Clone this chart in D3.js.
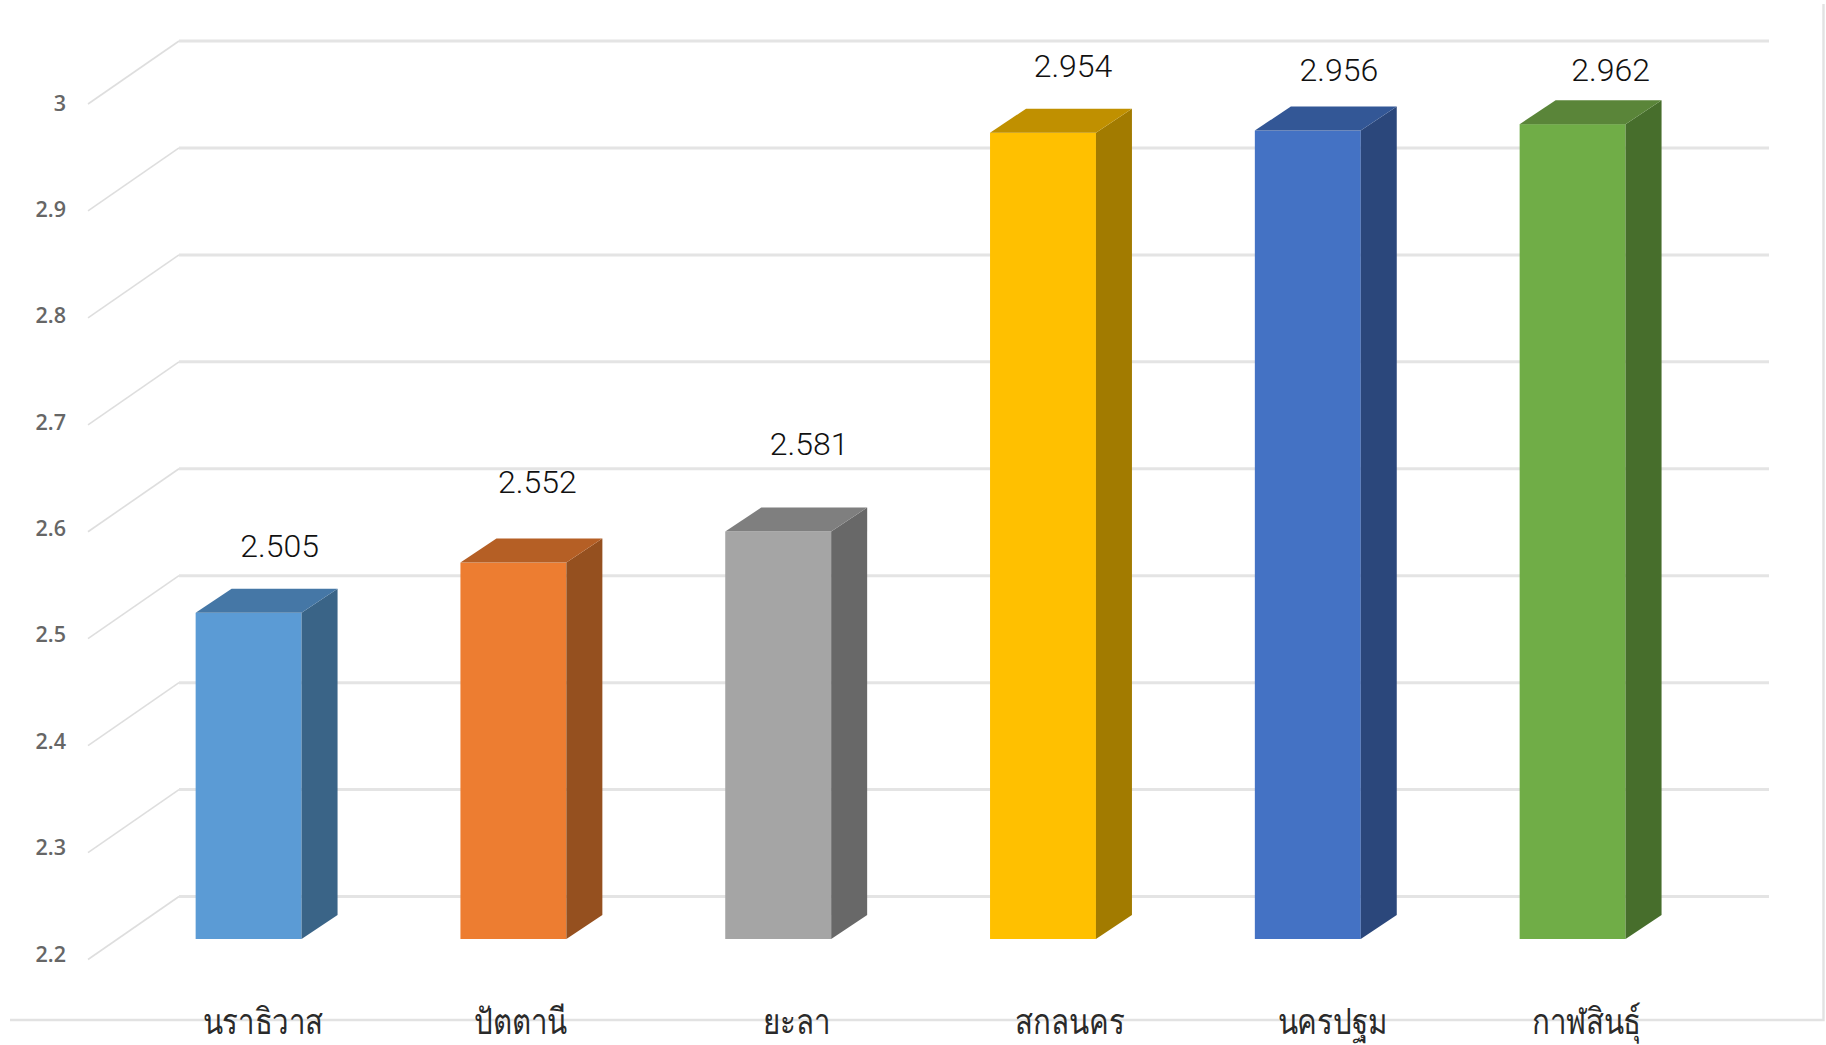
<!DOCTYPE html>
<html><head><meta charset="utf-8">
<script src="https://cdn.jsdelivr.net/npm/d3@7/dist/d3.min.js"></script>
<style>html,body{margin:0;padding:0;background:#fff;overflow:hidden}svg{display:block}</style>
</head><body><svg id="c" width="1826" height="1045"></svg>
<script>
const categories = ["นราธิวาส","ปัตตานี","ยะลา","สกลนคร","นครปฐม","กาฬสินธุ์"];
const values = [2.505,2.552,2.581,2.954,2.956,2.962];
const valueLabels = ["2.505","2.552","2.581","2.954","2.956","2.962"];
const yTicks = [2.2,2.3,2.4,2.5,2.6,2.7,2.8,2.9,3];
const frontColors = ["#5B9BD5","#ED7D31","#A5A5A5","#FFC000","#4472C4","#70AD47"];
const sideColors = ["#3A6487","#95501F","#686868","#A27B00","#2B477B","#476E2C"];
const topColors = ["#4577A6","#B55F25","#7F7F7F","#C09000","#335796","#5A8539"];
const labelNudgeX = [31,24,31,30,31,38];
const labelNudgeY = [-67,-81,-88,-67,-61,-54];
const catCentreNudge = [14,7,18,27,25,14];

const svg = d3.select("#c");
const floorBack = 896.5, floorFront = 959.5, wallLeft = 179, floorLeft = 88, wallRight = 1769;
const y = d3.scaleLinear().domain([2.2,3]).range([floorBack,41]);
const yTickLabel = d3.scaleLinear().domain([2.2,3]).range([954,103]);
const x = d3.scaleBand().domain(categories).range([116.2,1705]).paddingInner(0.6).paddingOuter(0.3);
const barDrop = 42.5, barDx = 36, barDy = 24;

const grid = svg.append("g");
yTicks.forEach(t=>{
  grid.append("path").attr("d",`M${floorLeft},${y(t)+floorFront-floorBack}L${wallLeft},${y(t)}`)
    .attr("fill","none").attr("stroke","#DEDEDE").attr("stroke-width",1.6);
  grid.append("path").attr("d",`M${wallLeft},${y(t)}H${wallRight}`)
    .attr("fill","none").attr("stroke","#E4E4E4").attr("stroke-width",3);
});
svg.append("path").attr("d","M10,1020H1823.5V4").attr("fill","none").attr("stroke","#E2E2E2").attr("stroke-width",2.4);

svg.append("g").selectAll("text").data(yTicks).join("text")
  .attr("x",66).attr("y",d=>yTickLabel(d)).attr("dy","0.35em")
  .attr("text-anchor","end").attr("fill","#666")
  .style("font","600 21.5px 'Open Sans'").text(d=>d3.format("~g")(d));

const bars = svg.append("g").selectAll("g").data(categories).join("g");
bars.each(function(c,i){
  const g = d3.select(this), l = x(c), w = x.bandwidth(), r = l+w;
  const t = y(values[i])+barDrop, b = y(2.2)+barDrop;
  g.append("rect").attr("x",l).attr("y",t).attr("width",w).attr("height",b-t).attr("fill",frontColors[i]);
  g.append("path").attr("d",`M${r},${t}L${r+barDx},${t-barDy}V${b-barDy}L${r},${b}Z`).attr("fill",sideColors[i]);
  g.append("path").attr("d",`M${l},${t}L${l+barDx},${t-barDy}H${r+barDx}L${r},${t}Z`).attr("fill",topColors[i]);
  g.append("text").attr("x",l+w/2+labelNudgeX[i]).attr("y",t+labelNudgeY[i]).attr("dy","0.35em")
    .attr("text-anchor","middle").attr("fill","#111")
    .style("font","300 32px Roboto").text(valueLabels[i]);
  g.append("text").attr("transform",`translate(${l+w/2+catCentreNudge[i]},1033.5) scale(0.82,1)`)
    .attr("text-anchor","middle").attr("fill","#2a2a2a")
    .style("font","300 36px 'Noto Sans','DejaVu Sans',sans-serif").text(c);
});
</script></body></html>
